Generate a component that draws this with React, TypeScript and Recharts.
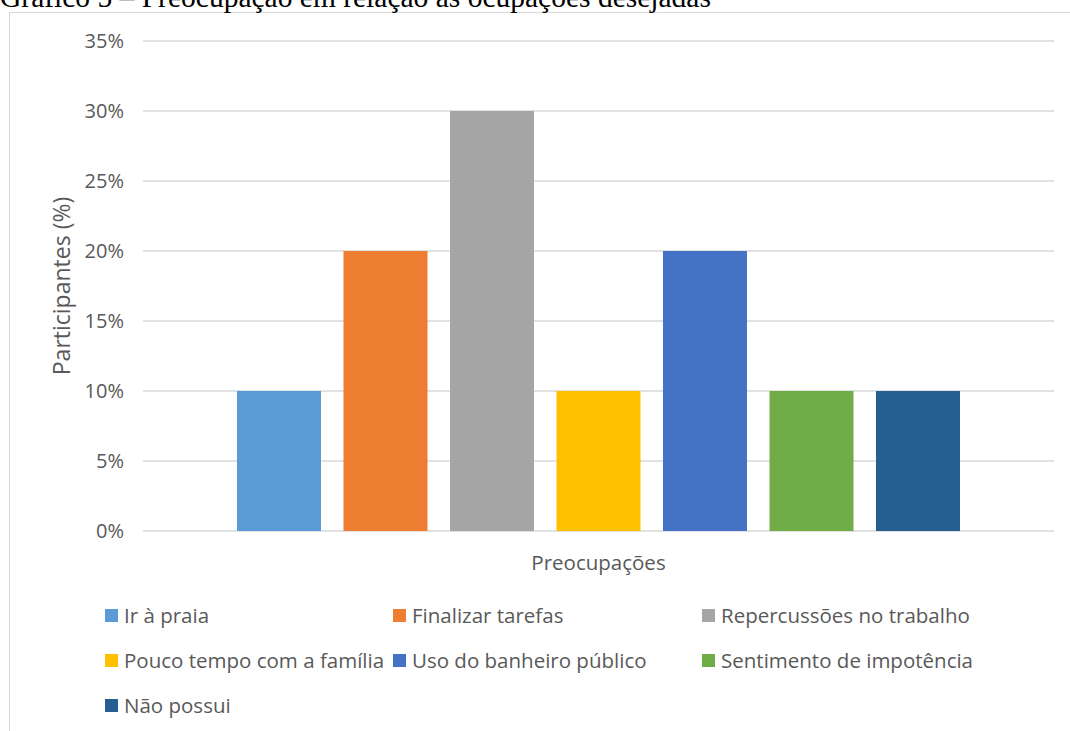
import React from 'react';
import { BarChart, Bar, XAxis, YAxis, CartesianGrid, Legend } from 'recharts';

const category = 'Preocupações';

const seriesNames = [
  'Ir à praia',
  'Finalizar tarefas',
  'Repercussões no trabalho',
  'Pouco tempo com a família',
  'Uso do banheiro público',
  'Sentimento de impotência',
  'Não possui',
];

const seriesValues = [10, 20, 30, 10, 20, 10, 10];

const seriesColors = ['#5B9BD5', '#ED7D31', '#A5A5A5', '#FFC000', '#4472C4', '#70AD47', '#255E91'];

const yTicks = [0, 5, 10, 15, 20, 25, 30, 35];

const data = [
  seriesNames.reduce((row: Record<string, string | number>, name, i) => {
    row[name] = seriesValues[i];
    return row;
  }, { name: category }),
];

const textColor = '#595959';
const fontFamily = '"Open Sans", sans-serif';

const legendCols = [105, 393, 702];
const legendRows = [20, 65, 110];

const LegendContent = ({ payload }: any) => {
  const items = [...(payload || [])].sort(
    (a: any, b: any) => seriesNames.indexOf(a.value) - seriesNames.indexOf(b.value)
  );
  return (
    <div style={{ position: 'relative', width: 1070, height: 130 }}>
      {items.map((item: any, i: number) => (
        <div
          key={item.value}
          style={{
            position: 'absolute',
            left: legendCols[i % 3],
            top: legendRows[Math.floor(i / 3)] - 14,
            height: 28,
            display: 'flex',
            alignItems: 'center',
            fontFamily,
            fontSize: 20.5,
            color: textColor,
            whiteSpace: 'nowrap',
          }}
        >
          <span style={{ display: 'inline-block', width: 13, height: 13, background: item.color, marginRight: 6 }} />
          {item.value}
        </div>
      ))}
    </div>
  );
};

export default function App() {
  return (
    <div style={{ position: 'absolute', left: 0, top: 0, width: 1070, height: 731, overflow: 'hidden', background: '#fff' }}>
      <div
        style={{
          position: 'absolute',
          left: 9,
          top: 12,
          width: 1200,
          height: 900,
          border: '1px solid #d9d9d9',
        }}
      />
      <div
        style={{
          position: 'absolute',
          left: 0,
          top: -17,
          fontFamily: '"Liberation Serif", serif',
          fontSize: 29.5,
          lineHeight: '29px',
          color: '#000',
          whiteSpace: 'nowrap',
        }}
      >
        Gráfico 5 – Preocupação em relação às ocupações desejadas
      </div>
      <div style={{ position: 'absolute', left: 0, top: 0 }}>
        <BarChart
          width={1070}
          height={731}
          data={data}
          margin={{ top: 41, right: 16, left: 0, bottom: 6 }}
          barSize={84}
          barGap={22.5}
          style={{ fontFamily }}
        >
          <CartesianGrid vertical={false} stroke="#d9d9d9" strokeWidth={1.3} />
          <XAxis
            dataKey="name"
            tick={false}
            axisLine={false}
            tickLine={false}
            height={64}
            label={{ value: category, position: 'insideBottom', offset: 25, fill: textColor, fontSize: 20.5, fontFamily }}
          />
          <YAxis
            width={143}
            domain={[0, 35]}
            ticks={yTicks}
            interval={0}
            tickFormatter={(v: number) => `${v}%`}
            axisLine={false}
            tickLine={false}
            tickSize={0}
            tickMargin={19}
            tick={{ fill: textColor, fontSize: 20, fontFamily }}
            label={{
              value: 'Participantes (%)',
              angle: -90,
              position: 'insideLeft',
              offset: 62,
              fill: textColor,
              fontSize: 23,
              fontFamily,
              style: { textAnchor: 'middle' },
            }}
          />
          <Legend verticalAlign="bottom" wrapperStyle={{ left: 0, width: 1070 }} content={<LegendContent />} />
          {seriesNames.map((name, i) => (
            <Bar key={name} dataKey={name} fill={seriesColors[i]} isAnimationActive={false} />
          ))}
        </BarChart>
      </div>
    </div>
  );
}
